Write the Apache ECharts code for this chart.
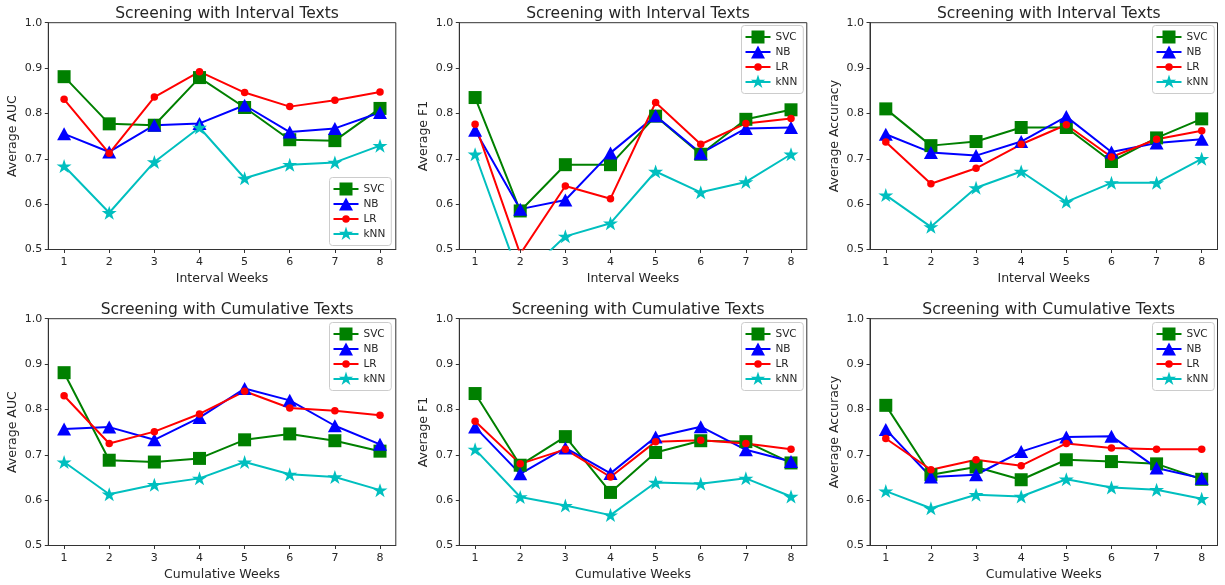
<!DOCTYPE html>
<html>
<head>
<meta charset="utf-8">
<script src="https://cdn.jsdelivr.net/npm/echarts@6/dist/echarts.min.js"></script>
<style>
  html, body { margin: 0; padding: 0; background: #ffffff; }
  #chart { width: 1225px; height: 585px; }
</style>
</head>
<body>
<div id="chart"></div>
<script>
// ---- data -------------------------------------------------------------
const weeks = [1, 2, 3, 4, 5, 6, 7, 8];
const models = ['SVC', 'NB', 'LR', 'kNN'];
const yTicks = [0.5, 0.6, 0.7, 0.8, 0.9, 1.0];

// Interval texts
const intervalAucSVC = [0.881, 0.777, 0.774, 0.879, 0.813, 0.742, 0.740, 0.811];
const intervalAucNB  = [0.755, 0.715, 0.774, 0.778, 0.818, 0.759, 0.767, 0.802];
const intervalAucLR  = [0.831, 0.712, 0.836, 0.892, 0.846, 0.815, 0.829, 0.847];
const intervalAucKNN = [0.684, 0.581, 0.693, 0.769, 0.657, 0.687, 0.692, 0.729];

const intervalF1SVC = [0.835, 0.585, 0.687, 0.687, 0.794, 0.710, 0.787, 0.808];
const intervalF1NB  = [0.763, 0.589, 0.609, 0.713, 0.795, 0.712, 0.767, 0.769];
const intervalF1LR  = [0.776, 0.490, 0.640, 0.612, 0.824, 0.732, 0.778, 0.789];
const intervalF1KNN = [0.710, 0.435, 0.529, 0.558, 0.672, 0.626, 0.649, 0.710];

const intervalAccSVC = [0.810, 0.729, 0.738, 0.769, 0.769, 0.694, 0.746, 0.788];
const intervalAccNB  = [0.754, 0.714, 0.707, 0.738, 0.793, 0.715, 0.735, 0.743];
const intervalAccLR  = [0.737, 0.645, 0.679, 0.732, 0.775, 0.704, 0.743, 0.762];
const intervalAccKNN = [0.620, 0.550, 0.636, 0.672, 0.605, 0.647, 0.647, 0.700];

// Cumulative texts
const cumAucSVC = [0.881, 0.688, 0.684, 0.692, 0.733, 0.746, 0.731, 0.708];
const cumAucNB  = [0.757, 0.761, 0.733, 0.782, 0.846, 0.820, 0.764, 0.723];
const cumAucLR  = [0.830, 0.725, 0.751, 0.790, 0.840, 0.803, 0.797, 0.787];
const cumAucKNN = [0.684, 0.613, 0.634, 0.648, 0.684, 0.657, 0.651, 0.622];

const cumF1SVC = [0.835, 0.677, 0.740, 0.617, 0.705, 0.731, 0.729, 0.682];
const cumF1NB  = [0.761, 0.658, 0.715, 0.659, 0.739, 0.762, 0.711, 0.685];
const cumF1LR  = [0.774, 0.680, 0.712, 0.651, 0.729, 0.732, 0.725, 0.712];
const cumF1KNN = [0.712, 0.607, 0.588, 0.567, 0.639, 0.636, 0.648, 0.608];

const cumAccSVC = [0.809, 0.656, 0.673, 0.645, 0.689, 0.685, 0.680, 0.646];
const cumAccNB  = [0.756, 0.651, 0.656, 0.707, 0.739, 0.741, 0.671, 0.648];
const cumAccLR  = [0.736, 0.667, 0.689, 0.676, 0.725, 0.715, 0.712, 0.712];
const cumAccKNN = [0.620, 0.582, 0.612, 0.608, 0.646, 0.628, 0.623, 0.603];

const panels = [
  { title: 'Screening with Interval Texts', xName: 'Interval Weeks', yName: 'Average AUC',
    values: [intervalAucSVC, intervalAucNB, intervalAucLR, intervalAucKNN] },
  { title: 'Screening with Interval Texts', xName: 'Interval Weeks', yName: 'Average F1',
    values: [intervalF1SVC, intervalF1NB, intervalF1LR, intervalF1KNN] },
  { title: 'Screening with Interval Texts', xName: 'Interval Weeks', yName: 'Average Accuracy',
    values: [intervalAccSVC, intervalAccNB, intervalAccLR, intervalAccKNN] },
  { title: 'Screening with Cumulative Texts', xName: 'Cumulative Weeks', yName: 'Average AUC',
    values: [cumAucSVC, cumAucNB, cumAucLR, cumAucKNN] },
  { title: 'Screening with Cumulative Texts', xName: 'Cumulative Weeks', yName: 'Average F1',
    values: [cumF1SVC, cumF1NB, cumF1LR, cumF1KNN] },
  { title: 'Screening with Cumulative Texts', xName: 'Cumulative Weeks', yName: 'Average Accuracy',
    values: [cumAccSVC, cumAccNB, cumAccLR, cumAccKNN] }
];

// ---- layout & style ---------------------------------------------------
const FONT = 'DejaVu Sans, Noto Sans, sans-serif';
const TEXT = '#262626';
const AXIS = '#333333';

const colLeft = [48.3, 459.3, 870];
const colWidth = 347.5;
const rowTop = [22.7, 318.7];
const rowHeight = 226.8;
const titleTop = [0, 296];

// legend box (top-left corner) per panel
const legendPos = [
  [329.5, 177.5], [741.5, 25.5], [1152.5, 25.5],
  [329.5, 322.5], [741.5, 322.5], [1152.5, 322.5]
];

const colors = ['#008000', '#0000ff', '#ff0000', '#00bfbf'];

// star marker outline (5 points, matplotlib-like proportions)
const STAR = 'M12.5,0L14.18,5.18L19.63,5.18L15.22,8.39L16.91,13.57L12.5,10.37L8.09,13.57L9.78,8.39L5.37,5.18L10.82,5.18Z';
const symbols = ['rect', 'triangle', 'circle', 'path://' + STAR];
const symbolSizes = [13, [14, 13], 7.5, [15, 14]];

// legend icons: a 25x15 box holding the line sample and the marker
const BOUNDS = 'M0,0h0.01v0.01h-0.01ZM25,15h-0.01v-0.01h0.01Z';
const LINE = 'M0,6.5H25V8.5H0Z';
const legendIcons = [
  'path://' + BOUNDS + LINE + 'M6,1H19V14H6Z',
  'path://' + BOUNDS + LINE + 'M12.5,1L19.5,14H5.5Z',
  'path://' + BOUNDS + LINE + 'M8.75,7.5A3.75,3.75 0 1,1 16.25,7.5A3.75,3.75 0 1,1 8.75,7.5Z',
  'path://' + BOUNDS + LINE + STAR
];

const grids = [], xAxes = [], yAxes = [], titles = [], legends = [], series = [];

panels.forEach((p, i) => {
  const col = i % 3, row = Math.floor(i / 3);
  const left = colLeft[col];
  grids.push({
    left: left, top: rowTop[row], width: colWidth, height: rowHeight,
    show: true, borderColor: AXIS, borderWidth: 1, backgroundColor: 'transparent'
  });
  titles.push({
    text: p.title, left: left + colWidth / 2, top: titleTop[row], textAlign: 'center',
    textStyle: { fontFamily: FONT, fontSize: 15.5, fontWeight: 'normal', color: TEXT, lineHeight: 18 }
  });
  xAxes.push({
    type: 'value', gridIndex: i, min: 0.65, max: 8.35,
    name: p.xName, nameLocation: 'middle', nameGap: 22.5,
    nameTextStyle: { fontFamily: FONT, fontSize: 12.5, color: TEXT },
    axisLine: { show: true, lineStyle: { color: AXIS, width: 1 } },
    axisTick: { show: true, customValues: weeks, length: 3.5, lineStyle: { color: AXIS } },
    axisLabel: { customValues: weeks, margin: 7, fontFamily: FONT, fontSize: 11, color: TEXT },
    splitLine: { show: false }
  });
  yAxes.push({
    type: 'value', gridIndex: i, min: 0.5, max: 1.0, interval: 0.1,
    name: p.yName, nameLocation: 'middle', nameRotate: 90, nameGap: 29,
    nameTextStyle: { fontFamily: FONT, fontSize: 12.5, color: TEXT },
    axisLine: { show: true, lineStyle: { color: AXIS, width: 1 } },
    axisTick: { show: true, customValues: yTicks, length: 3.5, lineStyle: { color: AXIS } },
    axisLabel: { customValues: yTicks, margin: 6, fontFamily: FONT, fontSize: 11, color: TEXT,
                 formatter: v => v.toFixed(1) },
    splitLine: { show: false }
  });
  legends.push({
    orient: 'vertical', left: legendPos[i][0], top: legendPos[i][1],
    padding: [4, 6, 4, 4], itemWidth: 25, itemHeight: 15, itemGap: 0,
    backgroundColor: 'rgba(255,255,255,0.8)', borderColor: '#cccccc', borderWidth: 1, borderRadius: 3,
    selectedMode: false,
    itemStyle: { borderWidth: 0 },
    textStyle: { fontFamily: FONT, fontSize: 10.5, color: TEXT },
    data: models.map((m, k) => ({ name: m, icon: legendIcons[k] }))
  });
  models.forEach((m, k) => {
    series.push({
      type: 'line', name: m, xAxisIndex: i, yAxisIndex: i,
      data: weeks.map((w, j) => [w, p.values[k][j]]),
      symbol: symbols[k], symbolSize: symbolSizes[k], showSymbol: true,
      lineStyle: { color: colors[k], width: 2 },
      itemStyle: { color: colors[k], borderWidth: 0 },
      clip: true, silent: true, animation: false,
      emphasis: { disabled: true }
    });
  });
});

const chart = echarts.init(document.getElementById('chart'), null, { renderer: 'canvas' });
chart.setOption({
  animation: false,
  backgroundColor: '#ffffff',
  title: titles,
  grid: grids,
  xAxis: xAxes,
  yAxis: yAxes,
  legend: legends,
  series: series
});
</script>
</body>
</html>
